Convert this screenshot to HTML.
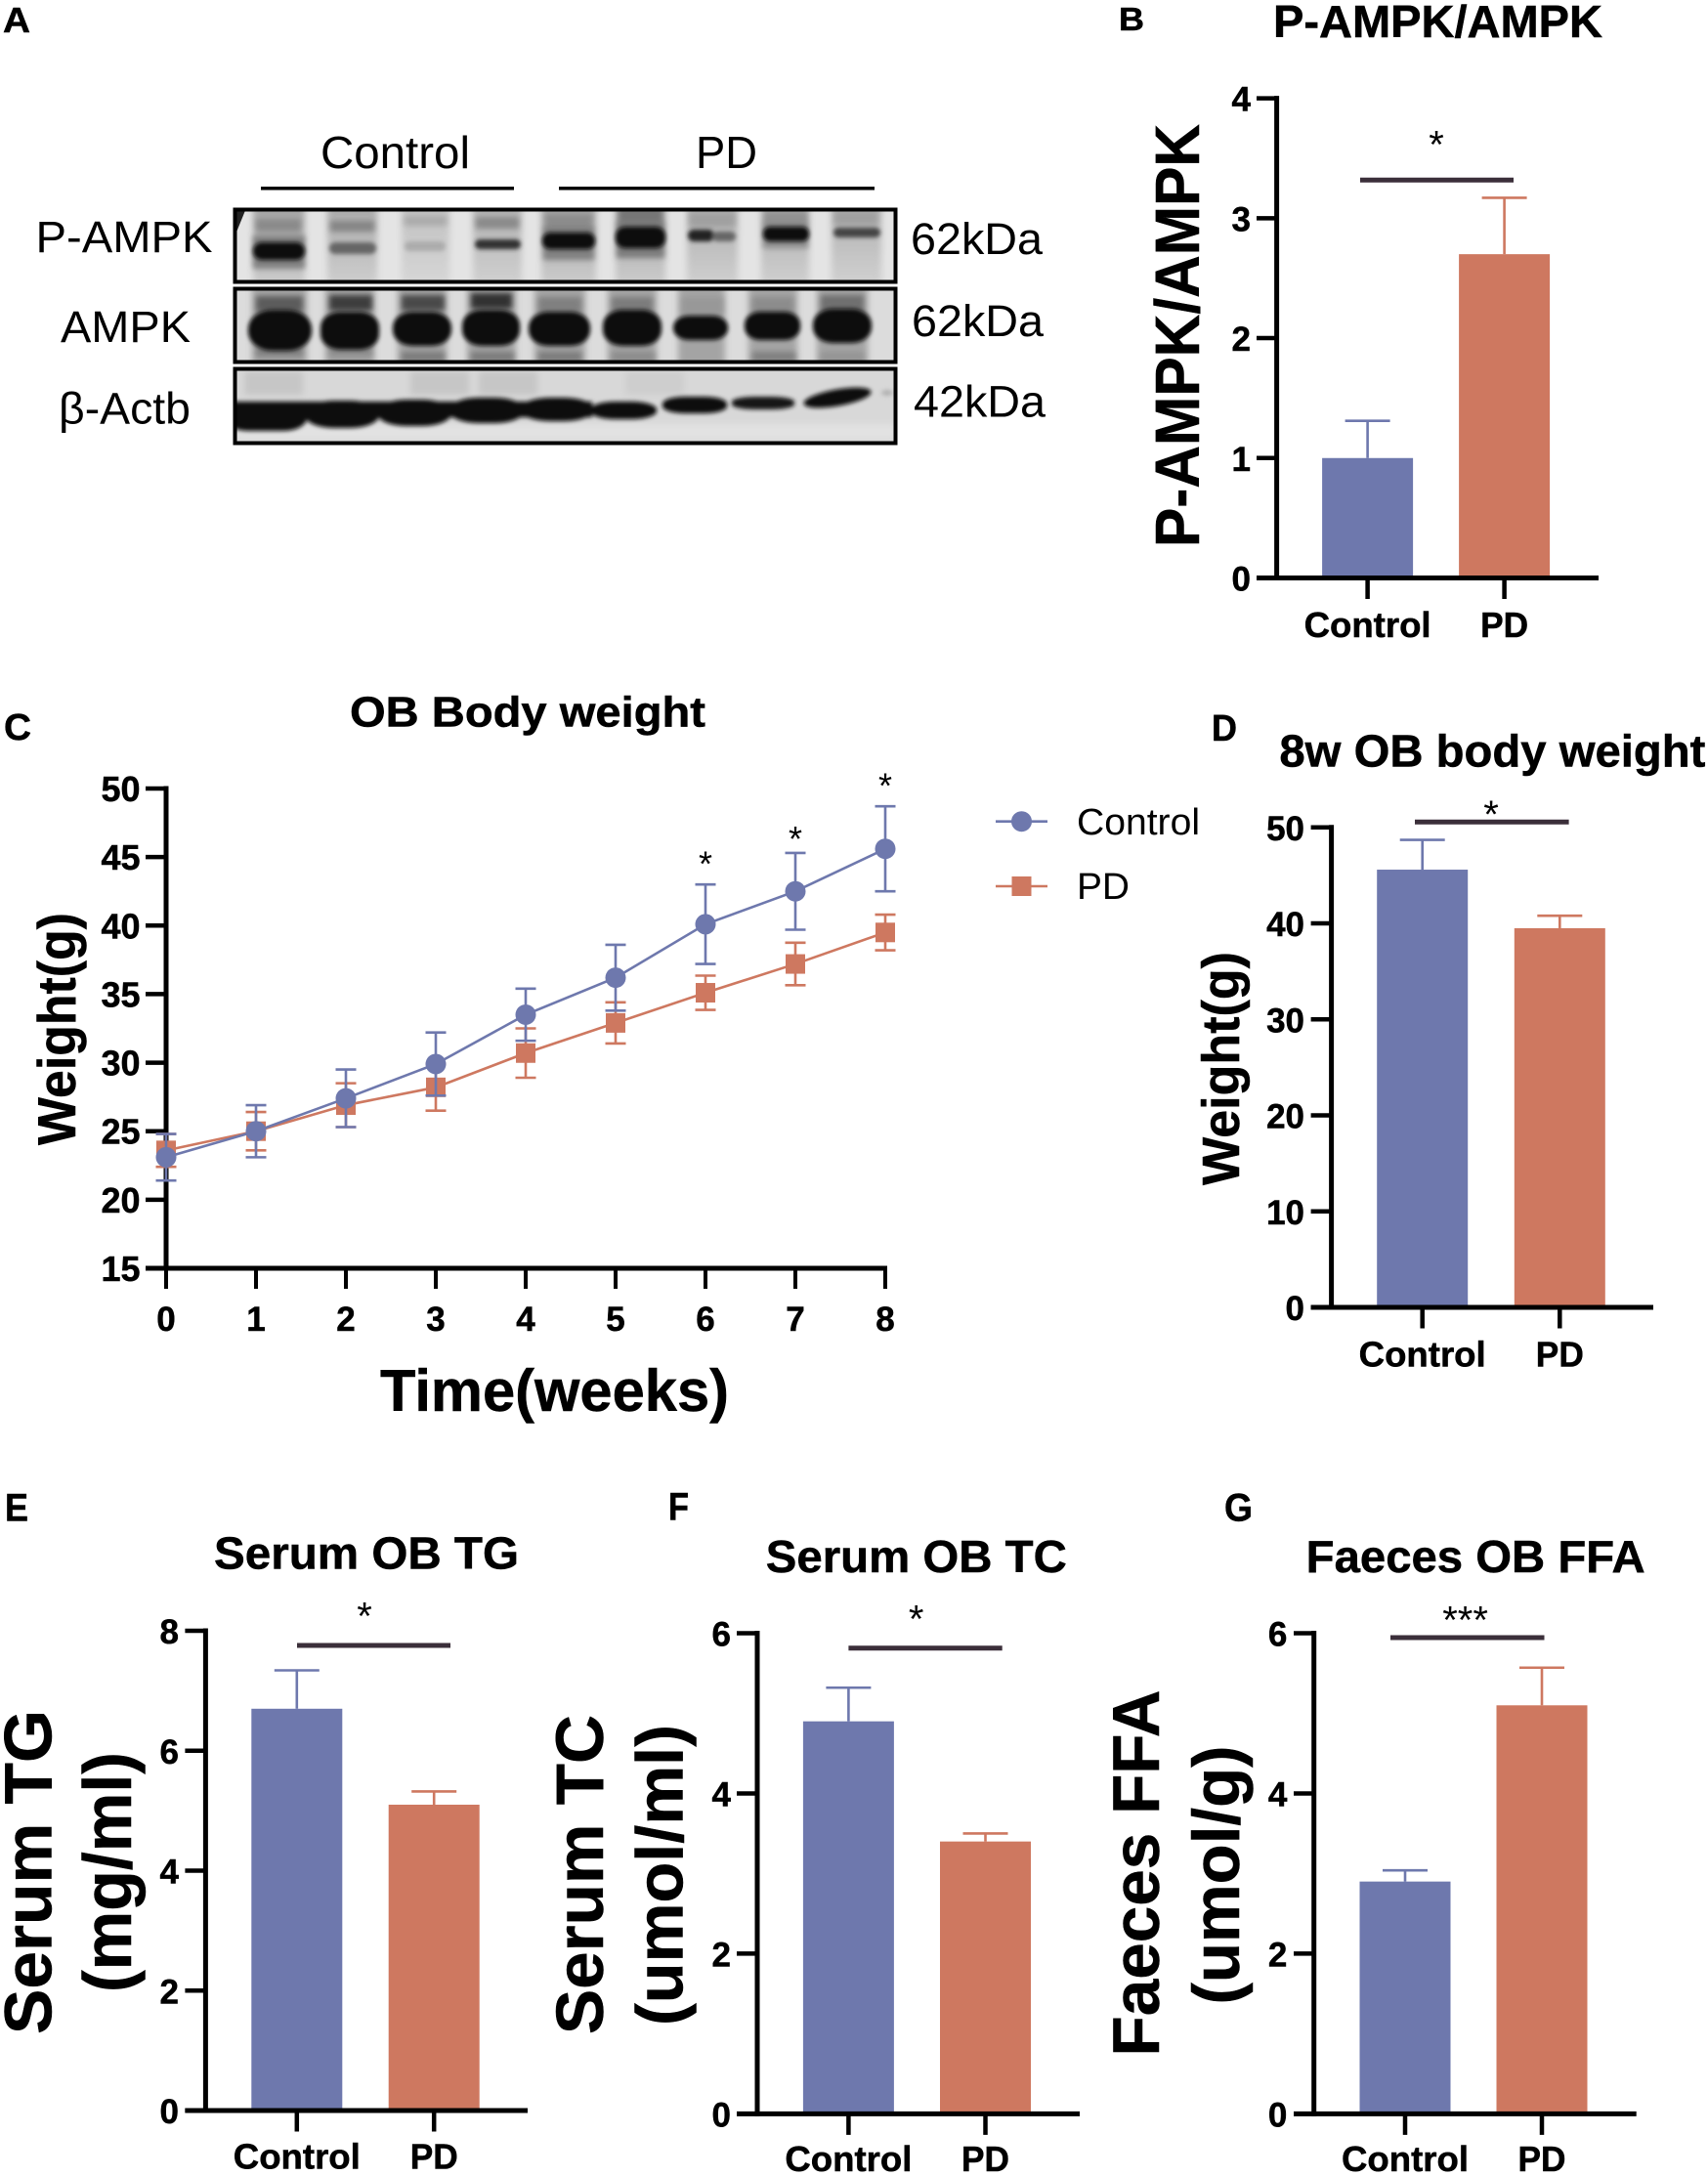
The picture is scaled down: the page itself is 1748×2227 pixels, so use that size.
<!DOCTYPE html>
<html lang="en">
<head>
<meta charset="utf-8">
<title>AMPK and obesity panel figure</title>
<style>
html,body{margin:0;padding:0;background:#fff;}
svg{display:block;}
text{font-family:"Liberation Sans",Arial,sans-serif;fill:#000;}
.b{font-weight:700;stroke:#000;stroke-width:.5px;}
</style>
</head>
<body>
<svg id="figure" xmlns="http://www.w3.org/2000/svg" width="1748" height="2227" viewBox="0 0 1748 2227">
<defs>
<filter id="blurLane" x="-30%" y="-30%" width="160%" height="160%"><feGaussianBlur stdDeviation="3.5"/></filter>
<filter id="blurSoft" x="-30%" y="-60%" width="160%" height="220%"><feGaussianBlur stdDeviation="3"/></filter>
<filter id="blurBand" x="-30%" y="-60%" width="160%" height="220%"><feGaussianBlur stdDeviation="2"/></filter>
<linearGradient id="laneFade" x1="0" y1="0" x2="0" y2="1"><stop offset="0" stop-color="#a0a0a0"/><stop offset="1" stop-color="#cecece"/></linearGradient>
<clipPath id="clipR1"><rect x="239" y="213" width="679" height="76"/></clipPath>
<clipPath id="clipR2"><rect x="239" y="294" width="679" height="77"/></clipPath>
<clipPath id="clipR3"><rect x="239" y="376" width="679" height="78"/></clipPath>
</defs>
<rect width="1748" height="2227" fill="#fff"/>

<!-- Panel letters -->
<text class="b" x="3" y="33" font-size="36" textLength="28" lengthAdjust="spacingAndGlyphs">A</text>
<text class="b" x="1145" y="31" font-size="33" textLength="26" lengthAdjust="spacingAndGlyphs">B</text>
<text class="b" x="4" y="757" font-size="38" textLength="28" lengthAdjust="spacingAndGlyphs">C</text>
<text class="b" x="1240" y="758" font-size="38" textLength="26" lengthAdjust="spacingAndGlyphs">D</text>
<text class="b" x="5" y="1556.5" font-size="40" textLength="24" lengthAdjust="spacingAndGlyphs">E</text>
<text class="b" x="684" y="1555.5" font-size="40" textLength="21" lengthAdjust="spacingAndGlyphs">F</text>
<text class="b" x="1253" y="1556.5" font-size="40" textLength="29" lengthAdjust="spacingAndGlyphs">G</text>

<!-- Panel A -->
<g>
<text x="328" y="172" font-size="46" textLength="153" lengthAdjust="spacingAndGlyphs">Control</text>
<text x="712" y="172" font-size="46" textLength="63" lengthAdjust="spacingAndGlyphs">PD</text>
<rect x="267" y="191" width="259" height="3.5" fill="#000"/>
<rect x="572" y="191" width="323" height="3.5" fill="#000"/>
<text x="36.5" y="258" font-size="45" textLength="181" lengthAdjust="spacingAndGlyphs">P-AMPK</text>
<text x="62" y="350" font-size="45" textLength="133" lengthAdjust="spacingAndGlyphs">AMPK</text>
<text x="60" y="433.5" font-size="45" textLength="135" lengthAdjust="spacingAndGlyphs">β-Actb</text>
<text x="932" y="260" font-size="45" textLength="135" lengthAdjust="spacingAndGlyphs">62kDa</text>
<text x="933" y="344" font-size="45" textLength="135" lengthAdjust="spacingAndGlyphs">62kDa</text>
<text x="935" y="426.5" font-size="45" textLength="135" lengthAdjust="spacingAndGlyphs">42kDa</text>

<g clip-path="url(#clipR1)">
<rect x="239" y="213" width="679" height="76" fill="#e4e4e4"/>
<path d="M239 213H252L241 240Z" fill="#222"/>
<g filter="url(#blurLane)" fill="url(#laneFade)">
<rect x="259" y="205" width="53" height="90"/>
<rect x="335" y="205" width="51" height="90" fill-opacity=".9"/>
<rect x="411" y="205" width="49" height="90" fill-opacity=".55"/>
<rect x="484" y="205" width="50" height="90" fill-opacity=".8"/>
<rect x="554" y="205" width="56" height="90"/>
<rect x="630" y="205" width="51" height="90"/>
<rect x="703" y="205" width="52" height="90" fill-opacity=".85"/>
<rect x="779" y="205" width="49" height="90" fill-opacity=".85"/>
<rect x="851" y="205" width="51" height="90" fill-opacity=".8"/>
</g>
<g filter="url(#blurSoft)">
<rect x="262" y="224" width="46" height="13" fill="#8a8a8a"/>
<rect x="338" y="226" width="45" height="11" fill="#858585"/>
<rect x="414" y="221" width="43" height="10" fill="#ababab"/>
<rect x="487" y="222" width="44" height="12" fill="#8a8a8a"/>
<rect x="558" y="219" width="48" height="15" fill="#8c8c8c"/>
<rect x="633" y="212" width="45" height="18" fill="#767676"/>
<rect x="706" y="218" width="46" height="14" fill="#a0a0a0"/>
<rect x="782" y="216" width="44" height="14" fill="#929292"/>
<rect x="854" y="216" width="44" height="14" fill="#a0a0a0"/>
<rect x="259" y="241" width="53" height="34" fill="#808080"/>
<rect x="556" y="232" width="52" height="34" fill="#808080"/>
<rect x="631" y="226" width="49" height="38" fill="#7c7c7c"/>
<rect x="781" y="226" width="46" height="28" fill="#8c8c8c"/>
</g>
<g filter="url(#blurBand)">
<rect x="259" y="248" width="53" height="18" rx="9" fill="#0d0c0a"/>
<rect x="337" y="248" width="48" height="12" rx="6" fill="#666"/>
<rect x="414" y="247" width="42" height="10" rx="5" fill="#acacac"/>
<rect x="486" y="245" width="47" height="10" rx="5" fill="#333"/>
<rect x="555" y="238" width="54" height="17" rx="8" fill="#0d0c0a"/>
<rect x="630" y="232" width="51" height="22" rx="10" fill="#0d0c0a"/>
<rect x="704" y="235" width="27" height="12" rx="6" fill="#222"/>
<rect x="729" y="237" width="24" height="10" rx="5" fill="#666"/>
<rect x="781" y="232" width="47" height="15" rx="7" fill="#0d0c0a"/>
<rect x="853" y="233" width="48" height="10" rx="5" fill="#444"/>
</g>
</g>
<rect x="240.5" y="214.5" width="676" height="74" fill="none" stroke="#000" stroke-width="4"/>

<g clip-path="url(#clipR2)">
<rect x="239" y="294" width="679" height="77" fill="#dcdcdc"/>
<g filter="url(#blurLane)" fill="#a4a4a4">
<rect x="258" y="290" width="56" height="85"/><rect x="333" y="290" width="50" height="85"/><rect x="407" y="290" width="50" height="85"/><rect x="478" y="290" width="50" height="85"/><rect x="547" y="290" width="52" height="85"/><rect x="622" y="290" width="50" height="85"/><rect x="694" y="290" width="48" height="85"/><rect x="766" y="290" width="50" height="85"/><rect x="836" y="290" width="52" height="85"/>
</g>
<g filter="url(#blurSoft)">
<rect x="262" y="303" width="48" height="16" fill="#5c5c5c"/>
<rect x="337" y="302" width="44" height="16" fill="#3c3c3c"/>
<rect x="411" y="302" width="44" height="16" fill="#4a4a4a"/>
<rect x="482" y="300" width="42" height="16" fill="#303030"/>
<rect x="551" y="304" width="44" height="16" fill="#808080"/>
<rect x="626" y="304" width="42" height="16" fill="#7c7c7c"/>
<rect x="698" y="304" width="42" height="18" fill="#989898"/>
<rect x="770" y="304" width="42" height="18" fill="#8c8c8c"/>
<rect x="840" y="302" width="44" height="18" fill="#707070"/>
<rect x="262" y="356" width="48" height="9" fill="#808080"/>
<rect x="337" y="356" width="44" height="9" fill="#8c8c8c"/>
<rect x="411" y="360" width="44" height="10" fill="#7c7c7c"/>
<rect x="482" y="360" width="44" height="10" fill="#7c7c7c"/>
<rect x="551" y="360" width="44" height="10" fill="#7c7c7c"/>
<rect x="626" y="360" width="44" height="10" fill="#8c8c8c"/>
<rect x="770" y="360" width="44" height="10" fill="#808080"/>
<rect x="840" y="360" width="44" height="10" fill="#949494"/>
</g>
<g filter="url(#blurBand)" fill="#0d0c0a">
<rect x="254" y="317" width="65" height="42" rx="24" ry="20"/>
<rect x="328" y="319" width="60" height="39" rx="20" ry="16"/>
<rect x="402" y="319" width="60" height="35" rx="20" ry="16"/>
<rect x="473" y="317" width="59" height="37" rx="20" ry="16"/>
<rect x="541" y="319" width="63" height="35" rx="20" ry="16"/>
<rect x="617" y="317" width="60" height="37" rx="20" ry="16"/>
<rect x="689" y="323" width="56" height="25" rx="16" ry="12"/>
<rect x="762" y="319" width="57" height="29" rx="16" ry="13"/>
<rect x="832" y="316" width="60" height="35" rx="20" ry="16"/>
</g>
</g>
<rect x="240.5" y="295.5" width="676" height="75" fill="none" stroke="#000" stroke-width="4"/>

<g clip-path="url(#clipR3)">
<rect x="239" y="376" width="679" height="78" fill="#d8d8d8"/>
<g filter="url(#blurLane)" fill="#c6c6c6">
<rect x="250" y="380" width="60" height="24"/><rect x="420" y="380" width="60" height="24"/><rect x="490" y="380" width="60" height="24"/><rect x="640" y="380" width="60" height="24" fill="#cecece"/>
<rect x="239" y="434" width="679" height="16" fill="#e2e2e2"/>
</g>
<g filter="url(#blurBand)" fill="#0d0c0a">
<rect x="230" y="411" width="376" height="16"/>
<rect x="230" y="412" width="84" height="29" rx="24" ry="13"/>
<rect x="312" y="410" width="76" height="28" rx="30" ry="13"/>
<rect x="386" y="409" width="76" height="27" rx="30" ry="13"/>
<rect x="460" y="407" width="76" height="26" rx="30" ry="12"/>
<rect x="533" y="407" width="74" height="24" rx="30" ry="11"/>
<rect x="604" y="411" width="68" height="18" rx="26" ry="8"/>
<rect x="678" y="406" width="66" height="17" rx="24" ry="7"/>
<rect x="749" y="406" width="64" height="13" rx="24" ry="5" fill="#181818"/>
<ellipse cx="857" cy="407" rx="35" ry="8.5" transform="rotate(-10 857 407)"/>
<ellipse cx="908" cy="402" rx="6" ry="3" fill="#b0b0b0"/>
</g>
</g>
<rect x="240.5" y="377.5" width="676" height="76" fill="none" stroke="#000" stroke-width="4"/>
</g>

<!-- Panel titles -->
<text class="b" x="1303" y="38" font-size="46" textLength="337" lengthAdjust="spacingAndGlyphs">P-AMPK/AMPK</text>
<text class="b" x="358" y="743.7" font-size="44" textLength="364" lengthAdjust="spacingAndGlyphs">OB Body weight</text>
<text class="b" x="1309.4" y="784.4" font-size="46" textLength="436" lengthAdjust="spacingAndGlyphs">8w OB body weight</text>
<text class="b" x="219" y="1605.7" font-size="46" textLength="312" lengthAdjust="spacingAndGlyphs">Serum OB TG</text>
<text class="b" x="783.8" y="1609" font-size="46" textLength="308" lengthAdjust="spacingAndGlyphs">Serum OB TC</text>
<text class="b" x="1336.7" y="1609" font-size="46" textLength="347" lengthAdjust="spacingAndGlyphs">Faeces OB FFA</text>

<!-- Axis titles -->
<text class="b" text-anchor="middle" font-size="64" textLength="433" lengthAdjust="spacingAndGlyphs" transform="translate(1227 343.5) rotate(-90)">P-AMPK/AMPK</text>
<text class="b" text-anchor="middle" font-size="55" textLength="238" lengthAdjust="spacingAndGlyphs" transform="translate(77 1053) rotate(-90)">Weight(g)</text>
<text class="b" x="389" y="1444" font-size="60" textLength="357" lengthAdjust="spacingAndGlyphs">Time(weeks)</text>
<text class="b" text-anchor="middle" font-size="54" textLength="239" lengthAdjust="spacingAndGlyphs" transform="translate(1268 1093.5) rotate(-90)">Weight(g)</text>
<text class="b" text-anchor="middle" font-size="69" textLength="332" lengthAdjust="spacingAndGlyphs" transform="translate(52.6 1916) rotate(-90)">Serum TG</text>
<text class="b" text-anchor="middle" font-size="70" textLength="246" lengthAdjust="spacingAndGlyphs" transform="translate(134 1916) rotate(-90)">(mg/ml)</text>
<text class="b" text-anchor="middle" font-size="69" textLength="327" lengthAdjust="spacingAndGlyphs" transform="translate(617 1918.5) rotate(-90)">Serum TC</text>
<text class="b" text-anchor="middle" font-size="68" textLength="308" lengthAdjust="spacingAndGlyphs" transform="translate(698.5 1919) rotate(-90)">(umol/ml)</text>
<text class="b" text-anchor="middle" font-size="68" textLength="375" lengthAdjust="spacingAndGlyphs" transform="translate(1186 1917) rotate(-90)">Faeces FFA</text>
<text class="b" text-anchor="middle" font-size="68" textLength="265" lengthAdjust="spacingAndGlyphs" transform="translate(1268 1919) rotate(-90)">(umol/g)</text>

<!-- Legend of panel C -->
<g>
<g>
<line x1="1019" y1="840.7" x2="1072" y2="840.7" stroke="#6e78ad" stroke-width="2.6"/>
<circle cx="1045.5" cy="840.7" r="10.5" fill="#6e78ad"/>
<text x="1102" y="854" font-size="38" textLength="126" lengthAdjust="spacingAndGlyphs">Control</text>
</g>
<g>
<line x1="1019" y1="907" x2="1072" y2="907" stroke="#ce7860" stroke-width="2.6"/>
<rect x="1035.5" y="897" width="20" height="20" fill="#ce7860"/>
<text x="1102" y="920" font-size="38" textLength="54" lengthAdjust="spacingAndGlyphs">PD</text>
</g>
</g>

<g id="plots"></g>
</svg>

<script>
// ---- Panel B: P-AMPK/AMPK ----
const pAmpkCategories = ['Control', 'PD'];
const pAmpkMeans = [1.0, 2.7];
const pAmpkErrors = [0.31, 0.47];
const pAmpkTicks = [0, 1, 2, 3, 4];
const pAmpkSignificance = '*';

// ---- Panel C: OB body weight time course ----
const weekLabels = [0, 1, 2, 3, 4, 5, 6, 7, 8];
const weightTicks = [15, 20, 25, 30, 35, 40, 45, 50];
const controlWeight = [23.1, 25.0, 27.4, 29.9, 33.5, 36.2, 40.1, 42.5, 45.6];
const controlWeightSd = [1.7, 1.9, 2.1, 2.3, 1.9, 2.4, 2.9, 2.8, 3.1];
const pdWeight = [23.6, 25.0, 26.9, 28.2, 30.7, 32.9, 35.1, 37.2, 39.5];
const pdWeightSd = [1.2, 1.4, 1.6, 1.7, 1.8, 1.5, 1.25, 1.55, 1.3];
const weightStarWeeks = [6, 7, 8];
const weightStarValues = [44.8, 46.6, 50.5];

// ---- Panel D: 8w OB body weight ----
const finalWeightCategories = ['Control', 'PD'];
const finalWeightMeans = [45.6, 39.5];
const finalWeightErrors = [3.1, 1.3];
const finalWeightTicks = [0, 10, 20, 30, 40, 50];
const finalWeightSignificance = '*';

// ---- Panel E: Serum TG ----
const serumTgCategories = ['Control', 'PD'];
const serumTgMeans = [6.7, 5.1];
const serumTgErrors = [0.64, 0.22];
const serumTgTicks = [0, 2, 4, 6, 8];
const serumTgSignificance = '*';

// ---- Panel F: Serum TC ----
const serumTcCategories = ['Control', 'PD'];
const serumTcMeans = [4.9, 3.4];
const serumTcErrors = [0.42, 0.1];
const serumTcTicks = [0, 2, 4, 6];
const serumTcSignificance = '*';

// ---- Panel G: Faeces FFA ----
const faecesFfaCategories = ['Control', 'PD'];
const faecesFfaMeans = [2.9, 5.1];
const faecesFfaErrors = [0.14, 0.47];
const faecesFfaTicks = [0, 2, 4, 6];
const faecesFfaSignificance = '***';

const SVGNS = 'http://www.w3.org/2000/svg';
const BLUE = '#6e78ad';
const ORANGE = '#ce7860';
const SIG = '#3b2f3a';
const plots = document.getElementById('plots');

function mk(tag, attrs, parent) {
  const el = document.createElementNS(SVGNS, tag);
  for (const k in attrs) el.setAttribute(k, attrs[k]);
  parent.appendChild(el);
  return el;
}

function valueScale(min, max, yBottom, yTop) {
  return function (v) { return yBottom - (v - min) / (max - min) * (yBottom - yTop); };
}

function drawLeftAxis(g, axisX, tickLeft, labelRight, ys, ticks, fontSize, key) {
  const axis = mk('line', {x1: axisX, x2: axisX, y1: ys(ticks[ticks.length - 1]) - 2.5, y2: ys(ticks[0]) + 2.5, stroke: '#000', 'stroke-width': 5}, g);
  
  
  ticks.forEach(function (t) {
    const tick = mk('line', {x1: tickLeft, x2: axisX, y1: ys(t), y2: ys(t), stroke: '#000', 'stroke-width': 4.5}, g);
    
    
    const label = mk('text', {x: labelRight, y: ys(t) + 13, 'text-anchor': 'end', 'font-size': fontSize, class: 'b'}, g);
    label.textContent = t;
    
    
  });
}

function drawBarChart(key, cfg, categories, means, errors, ticks, significance) {
  const g = mk('g', {}, plots);
  
  
  const ys = valueScale(ticks[0], ticks[ticks.length - 1], cfg.yBottom, cfg.yTop);
  const colors = [BLUE, ORANGE];
  const labelWidths = [130, 49];
  const barWidth = 93;
  const capWidth = 46;

  categories.forEach(function (cat, i) {
    const cx = cfg.firstCenter + i * cfg.step;
    const stem = mk('line', {x1: cx, x2: cx, y1: ys(means[i]), y2: ys(means[i] + errors[i]), stroke: colors[i], 'stroke-width': 2.6}, g);
    
    
    const cap = mk('line', {x1: cx - capWidth / 2, x2: cx + capWidth / 2, y1: ys(means[i] + errors[i]), y2: ys(means[i] + errors[i]), stroke: colors[i], 'stroke-width': 2.6}, g);
    
    
    const bar = mk('rect', {x: cx - barWidth / 2, y: ys(means[i]), width: barWidth, height: cfg.yBottom - ys(means[i]), fill: colors[i]}, g);
    
    
    const tick = mk('line', {x1: cx, x2: cx, y1: cfg.yBottom, y2: cfg.yBottom + 21.5, stroke: '#000', 'stroke-width': 4.5}, g);
    
    
    const label = mk('text', {x: cx, y: cfg.labelY, 'text-anchor': 'middle', 'font-size': 36, class: 'b', textLength: labelWidths[i], lengthAdjust: 'spacingAndGlyphs'}, g);
    label.textContent = cat;
    
    
  });

  const xAxis = mk('line', {x1: cfg.tickLeft, x2: cfg.axisEnd, y1: cfg.yBottom, y2: cfg.yBottom, stroke: '#000', 'stroke-width': 5}, g);
  
  
  drawLeftAxis(g, cfg.axisX, cfg.tickLeft, cfg.labelRight, ys, ticks, 35, key);

  const sigLine = mk('line', {x1: cfg.sigX1, x2: cfg.sigX2, y1: cfg.sigY, y2: cfg.sigY, stroke: SIG, 'stroke-width': 5}, g);
  
  
  const star = mk('text', {x: cfg.starX, y: cfg.starY + 18.4, 'text-anchor': 'middle', 'font-size': 40}, g);
  star.textContent = significance;
  
  
}

function drawWeightSeries(g, xs, ys, key, color, means, sds, isCircle) {
  const series = mk('g', {}, g);
  
  
  const capHalf = 10.5;
  means.forEach(function (v, i) {
    const x = xs(weekLabels[i]);
    const err = mk('path', {
      d: 'M' + x + ' ' + ys(v - sds[i]) + 'V' + ys(v + sds[i]) +
         'M' + (x - capHalf) + ' ' + ys(v + sds[i]) + 'H' + (x + capHalf) +
         'M' + (x - capHalf) + ' ' + ys(v - sds[i]) + 'H' + (x + capHalf),
      fill: 'none', stroke: color, 'stroke-width': 2.6
    }, series);
    
    
  });
  const points = means.map(function (v, i) { return xs(weekLabels[i]) + ',' + ys(v); }).join(' ');
  const line = mk('polyline', {points: points, fill: 'none', stroke: color, 'stroke-width': 2.6}, series);
  
  
  means.forEach(function (v, i) {
    const x = xs(weekLabels[i]);
    let mark;
    if (isCircle) {
      mark = mk('circle', {cx: x, cy: ys(v), r: 10.5, fill: color}, series);
    } else {
      mark = mk('rect', {x: x - 10, y: ys(v) - 10, width: 20, height: 20, fill: color}, series);
    }
    
    
  });
}

function drawWeightChart() {
  const g = mk('g', {}, plots);
  
  
  const x0 = 170, x8 = 906, yBottom = 1298, yTop = 807;
  const xs = function (w) { return x0 + (w - weekLabels[0]) / (weekLabels[weekLabels.length - 1] - weekLabels[0]) * (x8 - x0); };
  const ys = valueScale(weightTicks[0], weightTicks[weightTicks.length - 1], yBottom, yTop);

  const xAxis = mk('line', {x1: 149, x2: x8 + 2, y1: yBottom, y2: yBottom, stroke: '#000', 'stroke-width': 5}, g);
  
  
  drawLeftAxis(g, x0, 149, 143.5, ys, weightTicks, 36, 'weight');

  weekLabels.forEach(function (w) {
    const tick = mk('line', {x1: xs(w), x2: xs(w), y1: yBottom, y2: yBottom + 21, stroke: '#000', 'stroke-width': 4}, g);
    
    
    const label = mk('text', {x: xs(w), y: 1362, 'text-anchor': 'middle', 'font-size': 35, class: 'b'}, g);
    label.textContent = w;
    
    
  });

  drawWeightSeries(g, xs, ys, 'pd', ORANGE, pdWeight, pdWeightSd, false);
  drawWeightSeries(g, xs, ys, 'control', BLUE, controlWeight, controlWeightSd, true);

  weightStarWeeks.forEach(function (w, i) {
    const star = mk('text', {x: xs(w), y: ys(weightStarValues[i]) + 16.5, 'text-anchor': 'middle', 'font-size': 36}, g);
    star.textContent = '*';
    
    
  });
}

drawBarChart('p-ampk', {axisX: 1306.6, tickLeft: 1286, axisEnd: 1636, labelRight: 1280, yTop: 100.6, yBottom: 591.5, firstCenter: 1399.6, step: 140, labelY: 652, sigX1: 1392, sigX2: 1549, sigY: 184.3, starX: 1470, starY: 143},
  pAmpkCategories, pAmpkMeans, pAmpkErrors, pAmpkTicks, pAmpkSignificance);

drawWeightChart();

drawBarChart('final-weight', {axisX: 1362.6, tickLeft: 1341.6, axisEnd: 1692, labelRight: 1335, yTop: 846.8, yBottom: 1338, firstCenter: 1455.7, step: 140.6, labelY: 1398.7, sigX1: 1448, sigX2: 1605.6, sigY: 841.3, starX: 1526, starY: 828.5},
  finalWeightCategories, finalWeightMeans, finalWeightErrors, finalWeightTicks, finalWeightSignificance);

drawBarChart('serum-tg', {axisX: 210.4, tickLeft: 189.4, axisEnd: 540, labelRight: 183, yTop: 1669, yBottom: 2160, firstCenter: 303.8, step: 140.4, labelY: 2219.5, sigX1: 304, sigX2: 461, sigY: 1684, starX: 373, starY: 1649},
  serumTgCategories, serumTgMeans, serumTgErrors, serumTgTicks, serumTgSignificance);

drawBarChart('serum-tc', {axisX: 775, tickLeft: 754, axisEnd: 1105, labelRight: 748, yTop: 1671.5, yBottom: 2163.4, firstCenter: 868.4, step: 140.1, labelY: 2222, sigX1: 868.4, sigX2: 1025.7, sigY: 1686.8, starX: 937.7, starY: 1652},
  serumTcCategories, serumTcMeans, serumTcErrors, serumTcTicks, serumTcSignificance);

drawBarChart('faeces-ffa', {axisX: 1344.7, tickLeft: 1324, axisEnd: 1674.7, labelRight: 1317.4, yTop: 1671.5, yBottom: 2163.4, firstCenter: 1438, step: 140, labelY: 2222, sigX1: 1423, sigX2: 1580.5, sigY: 1676, starX: 1499.6, starY: 1653},
  faecesFfaCategories, faecesFfaMeans, faecesFfaErrors, faecesFfaTicks, faecesFfaSignificance);
</script>
</body>
</html>
